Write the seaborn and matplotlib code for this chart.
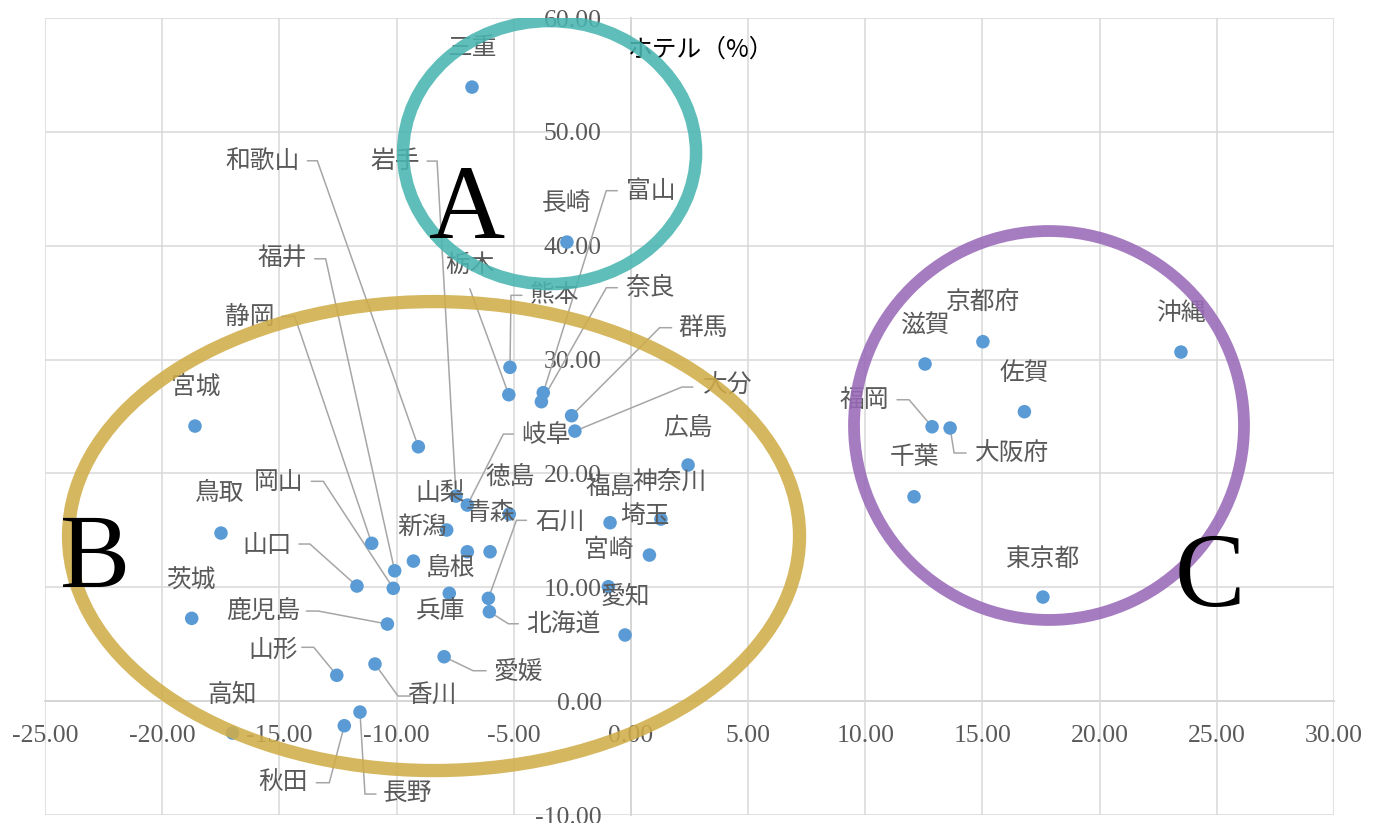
import matplotlib
matplotlib.use("Agg")
import matplotlib.pyplot as plt
import seaborn as sns
import pandas as pd
from matplotlib.patches import Ellipse
from matplotlib.ticker import FormatStrFormatter, MultipleLocator

# ---- data: change in hotel occupancy by prefecture ----
prefectures = [
    "三重", "長崎", "宮城", "鳥取", "茨城", "高知", "広島", "徳島", "福島", "神奈川",
    "埼玉", "宮崎", "愛知", "山梨", "青森", "新潟", "島根", "兵庫",
    "京都府", "滋賀", "沖縄", "佐賀", "千葉", "東京都",
    "和歌山", "岩手", "富山", "栃木", "熊本", "奈良", "群馬", "大分", "岐阜",
    "福井", "静岡", "岡山", "山口", "石川", "鹿児島", "北海道", "山形", "愛媛",
    "香川", "秋田", "長野", "福岡", "大阪府",
]
x_values = [
    -6.78, -2.73, -18.60, -17.49, -18.74, -17.00, 2.44, -5.19, -0.89, 1.28,
    0.79, -0.96, -0.25, -7.86, -6.01, -9.28, -6.98, -7.75,
    15.02, 12.55, 23.47, 16.79, 12.08, 17.58,
    -9.07, -7.46, -3.74, -5.21, -5.16, -3.82, -2.53, -2.39, -6.98,
    -10.08, -11.06, -10.14, -11.69, -6.08, -10.39, -6.04, -12.55, -7.97,
    -10.92, -12.23, -11.56, 12.85, 13.62,
]
y_values = [
    53.93, 40.32, 24.16, 14.76, 7.27, -2.80, 20.74, 16.43, 15.67, 15.99,
    12.83, 10.05, 5.81, 15.03, 13.12, 12.30, 13.12, 9.47,
    31.57, 29.61, 30.66, 25.42, 17.95, 9.14,
    22.34, 18.01, 27.09, 26.91, 29.32, 26.30, 25.07, 23.72, 17.22,
    11.45, 13.86, 9.91, 10.11, 9.03, 6.77, 7.85, 2.27, 3.90,
    3.26, -2.16, -0.96, 24.10, 23.99,
]
y_axis_title = "ホテル（%）"
group_letters = ["A", "B", "C"]

df = pd.DataFrame({"pref": prefectures, "x": x_values, "y": y_values})

# ---- label layout: pixel offsets from each marker (dx, dy upward) ----
plain_offsets = {
    "三重": (0, 39), "長崎": (0, 39), "宮城": (1, 39), "鳥取": (-1, 40),
    "茨城": (-1, 38), "高知": (0, 38), "広島": (0, 37), "徳島": (1, 37),
    "福島": (0, 36), "神奈川": (9, 37), "埼玉": (-4, 39), "宮崎": (0, 37),
    "愛知": (0, 38), "山梨": (-7, 37), "青森": (0, 39), "新潟": (9, 34),
    "島根": (-17, -16), "兵庫": (-9, -18),
    "京都府": (0, 40), "滋賀": (0, 38), "沖縄": (0, 39), "佐賀": (0, 39),
    "千葉": (0, 40), "東京都": (0, 38),
}
# label (dx, dy), elbow (dx, dy), length of the short horizontal tick
leader_layout = {
    "和歌山": ((-156, 286), (-101, 286), 10),
    "岩手": ((-61, 335), (-19, 335), 10),
    "富山": ((107, 202), (63, 202), 11),
    "栃木": ((-39, 130), (-39, 106), 0),
    "熊本": ((45, 72), (1, 72), 11),
    "奈良": ((109, 114), (65, 114), 11),
    "群馬": ((131, 88), (88, 88), 12),
    "大分": ((153, 45), (107, 44), 11),
    "岐阜": ((79, 70), (36, 71), 10),
    "福井": ((-112, 313), (-69, 312), 11),
    "静岡": ((-122, 226), (-77, 227), 13),
    "岡山": ((-115, 106), (-70, 107), 12),
    "山口": ((-90, 41), (-47, 42), 11),
    "石川": ((72, 77), (28, 78), 10),
    "鹿児島": ((-124, 13), (-69, 13), 12),
    "北海道": ((74, -13), (19, -12), 10),
    "山形": ((-64, 25), (-23, 28), 12),
    "愛媛": ((74, -15), (29, -14), 13),
    "香川": ((57, -31), (23, -32), 12),
    "秋田": ((-61, -56), (-15, -57), 13),
    "長野": ((48, -81), (5, -82), 11),
    "福岡": ((-68, 27), (-23, 27), 12),
    "大阪府": ((62, -25), (4, -25), 12),
}

# group outlines: center (x, y), width, height, color, stroke width
group_shapes = [
    ((-3.47, 48.18), 12.50, 23.10, "#49B5B0", 9.0),
    ((-8.40, 14.50), 31.19, 41.19, "#D0AD49", 9.6),
    ((17.84, 24.21), 16.64, 34.16, "#996AB8", 8.5),
]
letter_positions = [(-7.01, 42.9), (-22.87, 12.2), (24.71, 10.6)]

# ---- styling ----
sns.set_style("white")
plt.rcParams["font.family"] = ["Noto Sans CJK JP", "DejaVu Sans"]
plt.rcParams["axes.unicode_minus"] = False

W, H = 1376, 823
fig = plt.figure(figsize=(W / 100, H / 100), dpi=100)
ax = fig.add_axes([45 / W, 1 - 815 / H, (1334 - 45) / W, (815 - 18) / H])

ax.set_xlim(-25, 30)
ax.set_ylim(-10, 60)
ax.xaxis.set_major_locator(MultipleLocator(5))
ax.yaxis.set_major_locator(MultipleLocator(10))
ax.xaxis.set_major_formatter(FormatStrFormatter("%.2f"))
ax.yaxis.set_major_formatter(FormatStrFormatter("%.2f"))
ax.grid(True, color="#D9D9D9", linewidth=1.1, zorder=0)
ax.set_axisbelow(True)

for side in ("top", "right"):
    ax.spines[side].set_visible(False)
ax.spines["left"].set_position(("data", 0))
ax.spines["bottom"].set_position(("data", 0))
for side in ("left", "bottom"):
    ax.spines[side].set_color("#BFBFBF")
    ax.spines[side].set_linewidth(1.1)
    ax.spines[side].set_zorder(0.5)

ax.tick_params(axis="both", length=0, labelcolor="#595959", labelsize=18.5)
ax.tick_params(axis="x", pad=17)
ax.tick_params(axis="y", pad=21)
for lab in ax.get_xticklabels() + ax.get_yticklabels():
    lab.set_family("Liberation Serif")

sns.scatterplot(data=df, x="x", y="y", ax=ax, s=95, color="#5B9BD5",
                edgecolor="none", linewidth=0, zorder=3, legend=False)
ax.set_xlabel("")
ax.set_ylabel("")

label_kw = dict(ha="center", va="center", fontsize=17.8, color="#595959",
                family=["Noto Sans CJK JP", "DejaVu Sans"], zorder=4)

for name, px, py in zip(prefectures, x_values, y_values):
    if name in plain_offsets:
        dx, dy = plain_offsets[name]
        ax.annotate(name, xy=(px, py), xytext=(dx, dy),
                    textcoords="offset pixels", **label_kw)

to_data = ax.transData.inverted()
for name, px, py in zip(prefectures, x_values, y_values):
    if name not in leader_layout:
        continue
    (ldx, ldy), (edx, edy), seg = leader_layout[name]
    ax.annotate(name, xy=(px, py), xytext=(ldx, ldy),
                textcoords="offset pixels", **label_kw)
    cx, cy = ax.transData.transform((px, py))
    side = 1 if ldx > edx else -1
    pts_disp = [(cx + edx + side * seg, cy + edy), (cx + edx, cy + edy), (cx, cy)]
    pts = to_data.transform(pts_disp)
    ax.plot(pts[:, 0], pts[:, 1], color="#A6A6A6", linewidth=1.1,
            solid_joinstyle="miter", zorder=2.5)

for (center, w, h, col, lw) in group_shapes:
    ax.add_patch(Ellipse(center, w, h, fill=False, edgecolor=col,
                         linewidth=lw, alpha=0.88, zorder=5))

for letter, (lx, ly) in zip(group_letters, letter_positions):
    ax.text(lx, ly, letter, ha="center", va="center", fontsize=76,
            family="Liberation Serif", color="black", zorder=6)

ax.text(3.0, 57.2, y_axis_title, ha="center", va="center", fontsize=17.8,
        color="black", family=["Noto Sans CJK JP", "DejaVu Sans"], zorder=4)

fig.savefig("out.png", dpi=100)
